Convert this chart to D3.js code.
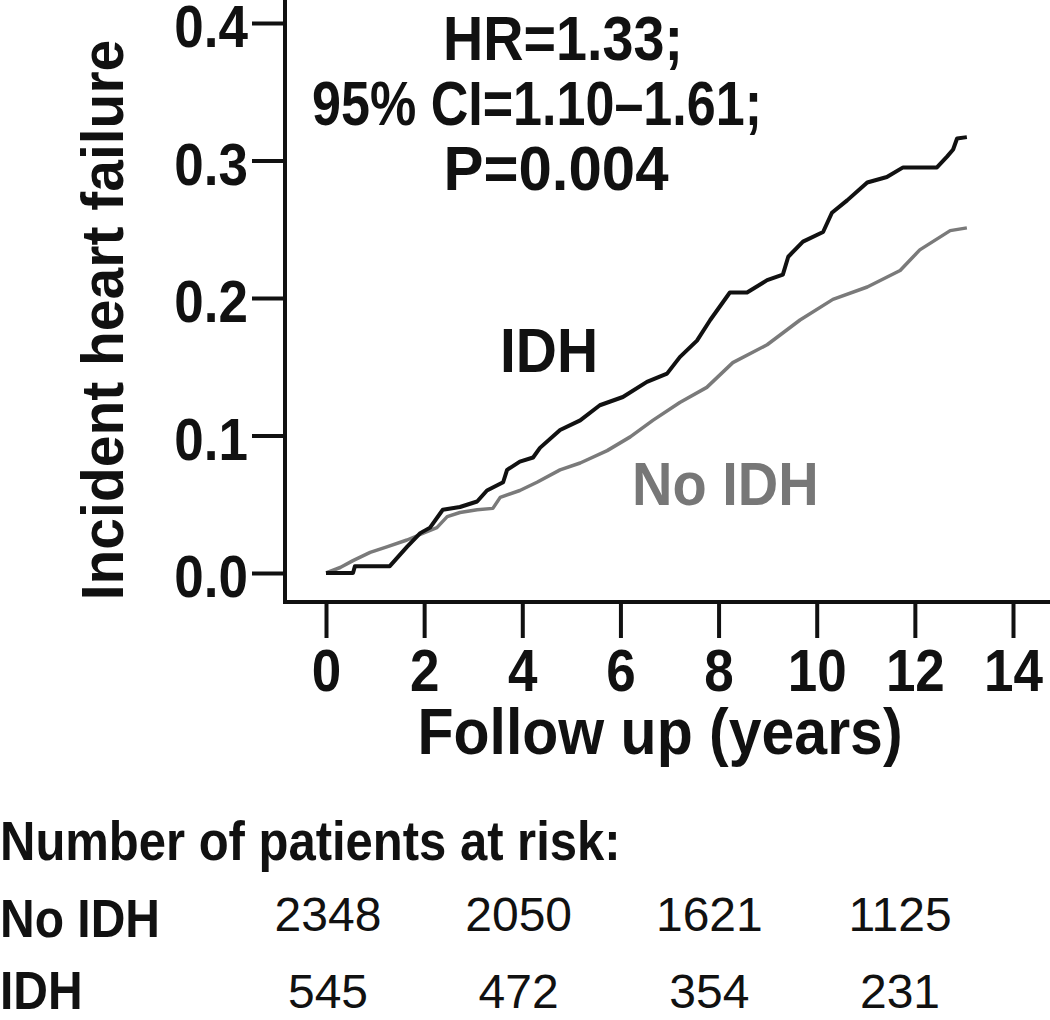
<!DOCTYPE html>
<html>
<head>
<meta charset="utf-8">
<script src="https://cdn.jsdelivr.net/npm/d3@7"></script>
<style>
  html, body { margin: 0; padding: 0; background: #fff; }
  svg { display: block; }
  text { font-family: "Liberation Sans", Arial, Helvetica, sans-serif; }
</style>
</head>
<body>
<svg id="chart" width="1050" height="1020"></svg>
<script>
// ---------- data ----------
const idhYears   = [0,0.55,0.59,1.30,1.65,1.92,2.12,2.38,2.73,3.08,3.28,3.61,3.69,3.95,4.22,4.36,4.77,5.18,5.58,6.05,6.54,6.95,7.21,7.56,7.83,8.23,8.58,8.99,9.31,9.42,9.72,10.13,10.31,10.62,11.03,11.43,11.76,12.45,12.66,12.78,12.86,13.06];
const idhValues  = [0,0,0.005,0.005,0.019,0.029,0.033,0.046,0.048,0.052,0.060,0.066,0.075,0.081,0.084,0.091,0.104,0.111,0.122,0.128,0.139,0.145,0.157,0.169,0.184,0.204,0.204,0.213,0.217,0.230,0.241,0.248,0.262,0.271,0.284,0.288,0.295,0.295,0.303,0.308,0.316,0.317];
const noIdhYears  = [0,0.29,0.55,0.90,1.24,1.65,1.92,2.26,2.47,2.73,3.08,3.40,3.55,3.95,4.30,4.77,5.18,5.73,6.20,6.66,7.21,7.76,8.29,8.99,9.66,10.33,11.03,11.70,12.10,12.72,13.06];
const noIdhValues = [0,0.004,0.009,0.015,0.019,0.024,0.028,0.033,0.041,0.044,0.046,0.047,0.055,0.060,0.066,0.075,0.080,0.089,0.099,0.111,0.124,0.135,0.153,0.166,0.184,0.199,0.208,0.220,0.235,0.249,0.251];

const xTicks = [0,2,4,6,8,10,12,14];
const yTicks = [0.0,0.1,0.2,0.3,0.4];

const riskTimes   = [0,4,8,12];
const riskGroups  = ["No IDH","IDH"];
const riskNoIdh   = [2348,2050,1621,1125];
const riskIdh     = [545,472,354,231];

const annotationLines = ["HR=1.33;","95% CI=1.10\u20131.61;","P=0.004"];

// ---------- layout ----------
const svg = d3.select("#chart");
const FONT = '"Liberation Sans", Arial, Helvetica, sans-serif';
const axisX = 285, axisY = 602;
const SY = 1.1; // vertical stretch of the bold lettering

const x = d3.scaleLinear().domain([0,14]).range([326,1013]);
const y = d3.scaleLinear().domain([0,0.4]).range([573,23]);
const xTable = d3.scaleLinear().domain([0,12]).range([328,900]);

function addText(parent, tx, ty, str, o) {
  const t = parent.append("text")
    .attr("transform", `translate(${tx},${ty})${o.rotate ? ` rotate(${o.rotate})` : ""} scale(1,${o.sy || 1})`)
    .attr("font-size", o.size).attr("font-weight", o.weight || "normal")
    .attr("text-anchor", o.anchor || "start").attr("fill", o.fill || "#111")
    .text(str);
  if (o.len) t.attr("textLength", o.len).attr("lengthAdjust", "spacingAndGlyphs");
  return t;
}

// frame lines
svg.append("line").attr("x1",axisX).attr("x2",axisX).attr("y1",0).attr("y2",axisY+2)
  .attr("stroke","#111").attr("stroke-width",4);
svg.append("line").attr("x1",axisX-2).attr("x2",1050).attr("y1",axisY).attr("y2",axisY)
  .attr("stroke","#111").attr("stroke-width",4);

// y axis
const gy = svg.append("g").attr("transform",`translate(${axisX},0)`)
  .call(d3.axisLeft(y).tickValues(yTicks).tickFormat(d3.format(".1f")).tickSize(33).tickPadding(4));
gy.select(".domain").remove();
gy.selectAll(".tick line").attr("stroke","#111").attr("stroke-width",4);
gy.selectAll(".tick text").attr("font-family",FONT).attr("font-size",53).attr("font-weight","bold")
  .attr("fill","#111").attr("transform",`scale(1,${SY})`)
  .attr("y", 7/SY - 7).attr("dy","0.42em");

// x axis
const gx = svg.append("g").attr("transform",`translate(0,${axisY})`)
  .call(d3.axisBottom(x).tickValues(xTicks).tickFormat(d3.format("d")).tickSize(36).tickPadding(17));
gx.select(".domain").remove();
gx.selectAll(".tick line").attr("stroke","#111").attr("stroke-width",4);
gx.selectAll(".tick text").attr("font-family",FONT).attr("font-size",53).attr("font-weight","bold")
  .attr("fill","#111").attr("transform",`scale(1,${SY})`).attr("y",(36+12)/SY);

// axis titles
addText(svg, 123, 320, "Incident heart failure", {size:57, weight:"bold", anchor:"middle", rotate:-90, sy:1.05});
addText(svg, 660, 754, "Follow up (years)", {size:59, weight:"bold", anchor:"middle", sy:SY});

// curves
const line = d3.line().x(d=>x(d[0])).y(d=>y(d[1])).curve(d3.curveLinear);
const noIdhData = noIdhYears.map((t,i)=>[t,noIdhValues[i]]);
const idhData = idhYears.map((t,i)=>[t,idhValues[i]]);
svg.append("path").datum(noIdhData).attr("d",line).attr("fill","none")
  .attr("stroke","#7a7a7a").attr("stroke-width",3.5).attr("stroke-linejoin","round");
svg.append("path").datum(idhData).attr("d",line).attr("fill","none")
  .attr("stroke","#111").attr("stroke-width",4).attr("stroke-linejoin","round");

// curve labels
addText(svg, 500, 372, "IDH", {size:57, weight:"bold", sy:SY});
addText(svg, 632, 505, "No IDH", {size:56, weight:"bold", fill:"#777", sy:SY});

// annotation
const annX = [563, 537, 556];
const annLen = [240, 450, 225];
annotationLines.forEach((s,i)=>{
  addText(svg, annX[i], 60 + i*65, s, {size:57, weight:"bold", anchor:"middle", sy:SY, len:annLen[i]});
});

// risk table
addText(svg, 0, 860, "Number of patients at risk:", {size:49, weight:"bold", sy:1.13});
const rowY = [937,1009];
const numY = [931,1008];
riskGroups.forEach((g,i)=> addText(svg, 0, rowY[i], g, {size:48, weight:"bold", sy:1.13}));
[riskNoIdh, riskIdh].forEach((vals,r)=>{
  svg.append("g").selectAll("text").data(vals).join("text")
    .attr("x",(d,i)=>xTable(riskTimes[i])).attr("y",numY[r]).attr("text-anchor","middle")
    .attr("font-size",48).attr("fill","#111").text(d=>d);
});
</script>
</body>
</html>
